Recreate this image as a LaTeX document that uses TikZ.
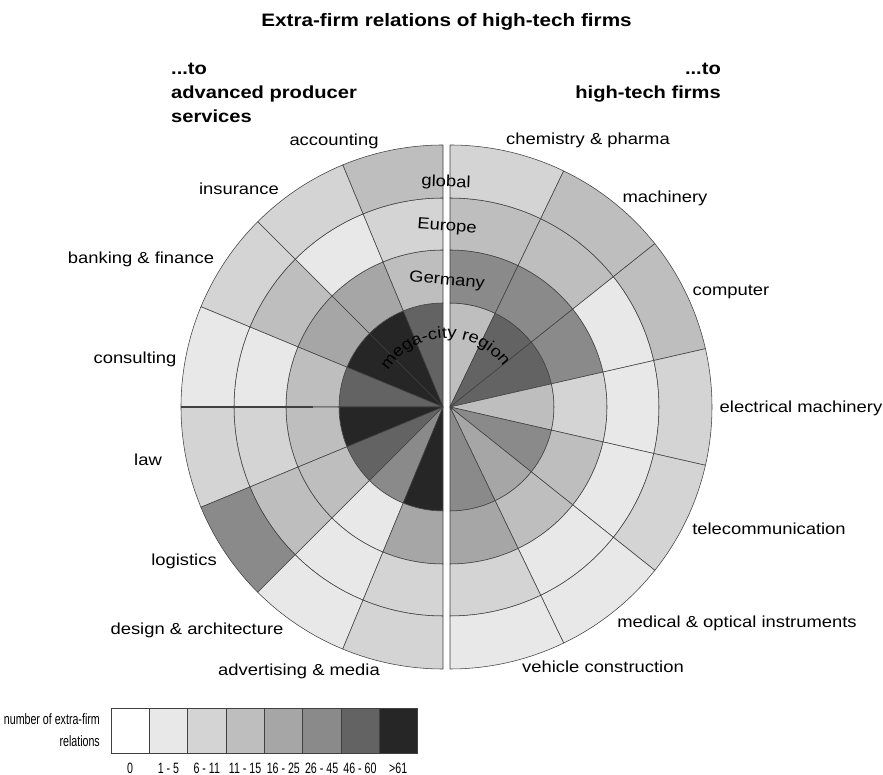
\documentclass[tikz,border=0pt]{standalone}
\usepackage{fontspec}
\setmainfont{Liberation Sans}[FakeStretch=1.15]
\newfontfamily\legendfont{Liberation Sans}[FakeStretch=0.71]
\usetikzlibrary{calc,decorations.text}

% shades of the scale
\definecolor{lev0}{gray}{1}
\definecolor{lev1}{gray}{0.91}
\definecolor{lev2}{gray}{0.83}
\definecolor{lev3}{gray}{0.745}
\definecolor{lev4}{gray}{0.65}
\definecolor{lev5}{gray}{0.54}
\definecolor{lev6}{gray}{0.39}
\definecolor{lev7}{gray}{0.15}
\definecolor{gridline}{gray}{0.25}

\tikzset{
  cell/.style={draw=gridline, line width=0.55pt, line join=round},
  lab/.style={font=\fontsize{16}{19}\selectfont, inner sep=0pt, text height=11pt, text depth=3.5pt},
  head/.style={font=\fontsize{17.5}{21}\selectfont\bfseries, inner sep=0pt},
  titletext/.style={font=\fontsize{18}{22}\selectfont\bfseries, inner sep=0pt},
  legbox/.style={draw=gridline, line width=0.6pt, minimum width=38.3pt, minimum height=45pt, inner sep=0pt},
  legtext/.style={font=\legendfont\fontsize{15}{18}\selectfont, inner sep=0pt},
}

% annular sector: centre, start angle, end angle, inner radius, outer radius, shade level
\newcommand{\annularcell}[6]{%
  \filldraw[cell, fill=lev#6] ($(#1)+(#2:#5)$) arc[start angle=#2, end angle=#3, radius=#5]
    -- ($(#1)+(#3:#4)$) arc[start angle=#3, end angle=#2, radius=#4] -- cycle;}

\begin{document}
\begin{tikzpicture}[x=1pt, y=1pt]
\useasboundingbox (0,0) rectangle (883,775);

\coordinate (L) at (443,368);
\coordinate (R) at (450,368);
\coordinate (M) at (447,368);

% left half: advanced producer services (mega-city / Germany / Europe / global)
\foreach \k/\m/\g/\e/\w in {0/6/3/2/3, 1/7/4/1/2, 2/7/4/3/2, 3/6/3/1/1,
                           4/7/3/2/2, 5/6/3/3/5, 6/5/1/1/1, 7/7/4/2/2} {
  \pgfmathsetmacro\sa{90+22.5*\k}
  \pgfmathsetmacro\sb{112.5+22.5*\k}
  \annularcell{L}{\sa}{\sb}{0.01}{104}{\m}
  \annularcell{L}{\sa}{\sb}{104}{157}{\g}
  \annularcell{L}{\sa}{\sb}{157}{209}{\e}
  \annularcell{L}{\sa}{\sb}{209}{262}{\w}
}
\draw[gridline, line width=1.4pt] ($(L)+(180:262)$) -- ($(L)+(180:130)$);

% right half: high-tech firms
\foreach \k/\m/\g/\e/\w in {0/3/5/3/2, 1/6/5/3/3, 2/6/5/1/3, 3/3/2/1/2,
                           4/5/3/1/2, 5/4/3/1/1, 6/5/4/2/1} {
  \pgfmathsetmacro\sa{90-180/7*\k}
  \pgfmathsetmacro\sb{90-180/7*(\k+1)}
  \annularcell{R}{\sa}{\sb}{0.01}{104}{\m}
  \annularcell{R}{\sa}{\sb}{104}{157}{\g}
  \annularcell{R}{\sa}{\sb}{157}{209}{\e}
  \annularcell{R}{\sa}{\sb}{209}{262}{\w}
}

% ring names
\node[lab, rotate=-2] (rglobal) at (446,592) {global};
\node[lab, rotate=-4] (reurope) at (447,548) {Europe};
\node[lab, rotate=-5] (rgermany) at (447,494) {Germany};
\path[decorate, decoration={text along path, text align=center,
      text={|\fontsize{16}{19}\selectfont|mega-city region}}]
  ($(M)+(157:69)$) arc[start angle=157, end angle=27, radius=69];

% title and headings
\node[titletext, anchor=base] (title) at (446.5,748) {Extra-firm relations of high-tech firms};
\node[head, anchor=base west] (lh1) at (171,700) {...to};
\node[head, anchor=base west] (lh2) at (171,676) {advanced producer};
\node[head, anchor=base west] (lh3) at (171,652) {services};
\node[head, anchor=base east] (rh1) at (721,700) {...to};
\node[head, anchor=base east] (rh2) at (721,676) {high-tech firms};

% sector names, left
\node[lab] (accounting) at (334,633) {accounting};
\node[lab] (insurance) at (239,584) {insurance};
\node[lab] (banking) at (141,515) {banking \& finance};
\node[lab] (consulting) at (135,415) {consulting};
\node[lab] (law) at (148,313) {law};
\node[lab] (logistics) at (184,213) {logistics};
\node[lab] (design) at (197,144) {design \& architecture};
\node[lab] (advertising) at (299,103) {advertising \& media};

% sector names, right
\node[lab] (chemistry) at (588,634) {chemistry \& pharma};
\node[lab] (machinery) at (665,576) {machinery};
\node[lab] (computer) at (731,483) {computer};
\node[lab] (electrical) at (801,366) {electrical machinery};
\node[lab] (telecom) at (769,244) {telecommunication};
\node[lab] (medical) at (737,151) {medical \& optical instruments};
\node[lab] (vehicle) at (603,106) {vehicle construction};

% legend
\foreach \i/\txt in {0/0, 1/1 - 5, 2/6 - 11, 3/11 - 15, 4/16 - 25, 5/26 - 45, 6/46 - 60, 7/>61} {
  \node[legbox, fill=lev\i] (key\i) at ({111+38.3*(\i+0.5)}, 44.5) {};
  \node[legtext, anchor=base] (keylab\i) at ($(key\i.south)+(0,-20)$) {\txt};
}
\node[legtext, anchor=base east] (legtitle1) at (100,50) {number of extra-firm};
\node[legtext, anchor=base east] (legtitle2) at (100,28) {relations};
\end{tikzpicture}
\end{document}
